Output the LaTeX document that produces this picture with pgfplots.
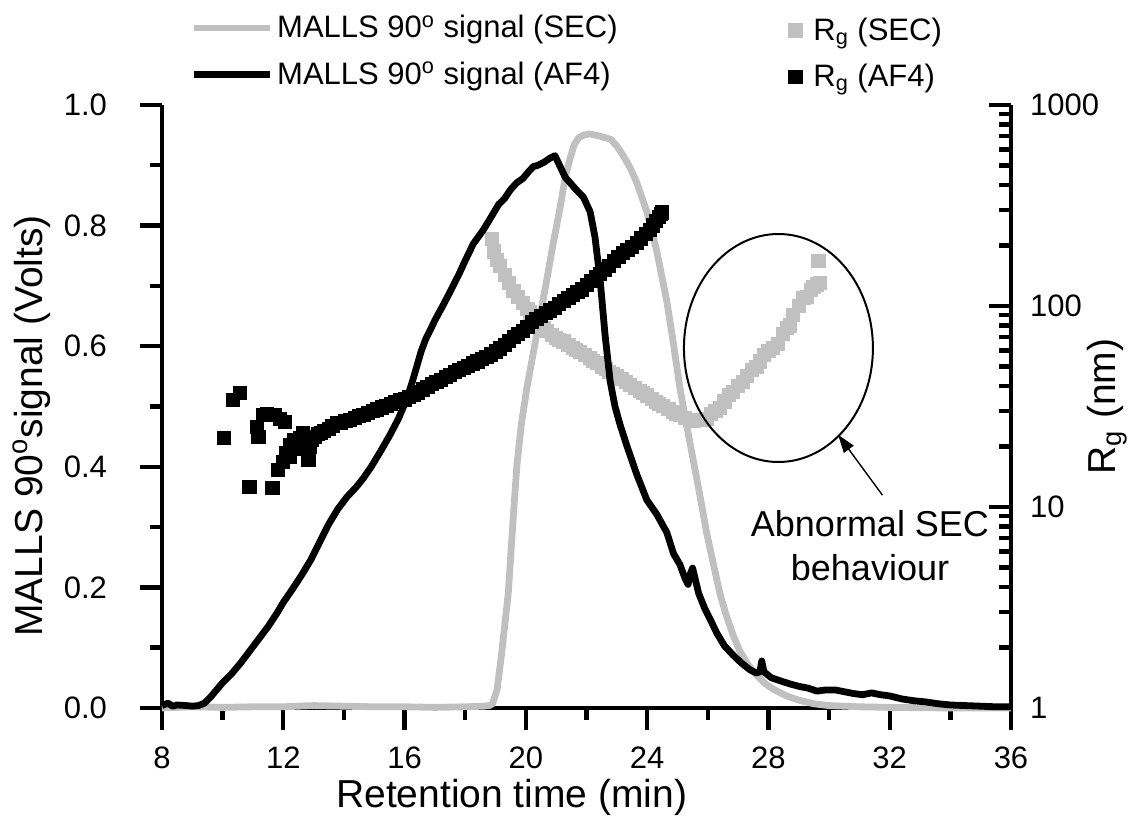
\documentclass[border=0pt]{standalone}
\usepackage{fontspec}
\setmainfont{Liberation Sans}
\usepackage{pgfplots}
\usepackage{pgfplotstable}
\pgfplotsset{compat=1.18}
\usetikzlibrary{arrows.meta}
\definecolor{ltgray}{RGB}{192,192,192}

\pgfplotstableread{
x y
8.0 0.004
8.2 0.008
8.35 0.003
8.5 0.005
8.8 0.004
9.0 0.003
9.2 0.004
9.4 0.008
9.6 0.018
9.8 0.03
10.0 0.042
10.3 0.057
10.6 0.075
10.9 0.095
11.2 0.115
11.5 0.135
11.8 0.158
12.0 0.175
12.3 0.197
12.6 0.22
12.9 0.245
13.2 0.275
13.5 0.305
13.8 0.33
14.1 0.35
14.4 0.366
14.64 0.381
14.9 0.4
15.2 0.425
15.52 0.453
15.8 0.48
16.07 0.512
16.25 0.54
16.4 0.566
16.55 0.592
16.7 0.612
16.85 0.627
17.0 0.643
17.25 0.666
17.5 0.69
17.8 0.72
18.0 0.742
18.27 0.77
18.6 0.793
18.9 0.818
19.1 0.835
19.3 0.845
19.5 0.86
19.7 0.871
19.9 0.878
20.1 0.89
20.25 0.898
20.4 0.9
20.6 0.905
20.8 0.912
20.96 0.916
21.13 0.898
21.3 0.88
21.46 0.871
21.65 0.86
21.9 0.847
22.12 0.823
22.28 0.781
22.45 0.71
22.61 0.62
22.78 0.542
22.94 0.5
23.1 0.471
23.33 0.435
23.66 0.387
23.99 0.345
24.32 0.321
24.65 0.291
24.87 0.256
25.08 0.238
25.25 0.215
25.35 0.205
25.42 0.222
25.5 0.232
25.58 0.215
25.7 0.19
25.9 0.165
26.1 0.145
26.3 0.124
26.55 0.103
26.83 0.088
27.1 0.075
27.4 0.063
27.6 0.058
27.72 0.06
27.78 0.078
27.85 0.06
28.1 0.05
28.4 0.045
28.7 0.04
29.0 0.036
29.3 0.033
29.6 0.028
29.9 0.03
30.2 0.03
30.5 0.027
30.8 0.024
31.1 0.022
31.4 0.025
31.7 0.022
32.0 0.02
32.4 0.015
32.8 0.012
33.2 0.01
33.6 0.007
34.0 0.005
34.5 0.004
35.0 0.003
35.5 0.002
36.0 0.002
}\afline

\pgfplotstableread{
x y
8.0 0.0
9.0 0.002
10.0 0.001
11.0 0.002
12.0 0.002
13.0 0.004
14.0 0.003
15.0 0.002
16.0 0.002
17.0 0.001
18.0 0.002
18.6 0.003
18.8 0.004
18.9 0.007
19.05 0.03
19.2 0.09
19.42 0.19
19.59 0.32
19.7 0.4
19.85 0.47
20.03 0.53
20.36 0.62
20.69 0.71
20.9 0.77
21.13 0.83
21.3 0.88
21.46 0.912
21.6 0.935
21.75 0.946
21.9 0.95
22.1 0.952
22.4 0.949
22.8 0.943
23.0 0.932
23.21 0.916
23.45 0.895
23.66 0.871
23.99 0.823
24.32 0.757
24.65 0.674
24.85 0.61
25.08 0.531
25.3 0.47
25.52 0.411
25.75 0.35
25.96 0.291
26.2 0.235
26.4 0.19
26.6 0.155
26.84 0.12
27.05 0.095
27.3 0.074
27.6 0.055
27.9 0.04
28.2 0.03
28.6 0.02
29.0 0.013
29.5 0.007
30.0 0.004
31.0 0.002
32.0 0.001
34.0 0.0
36.0 0.0
}\secline

\pgfplotstableread{
x y
18.87 216
18.95 187
19.05 170
19.15 159
19.3 143
19.45 130
19.59 119
19.75 111
19.9 104
20.05 97
20.14 93
20.3 88
20.45 83
20.6 78
20.69 75.5
20.85 72
21.0 69.5
21.1 68
21.24 66.7
21.4 64
21.55 62
21.65 60.5
21.79 59
21.95 57
22.1 55
22.2 53.5
22.34 52
22.5 50
22.65 48.5
22.75 47
22.88 46
23.0 44.8
23.15 43.3
23.3 41.8
23.43 40.6
23.6 39
23.75 37.8
23.85 36.8
23.99 35.9
24.15 34.6
24.3 33.4
24.4 32.6
24.53 31.7
24.7 30.7
24.85 29.8
24.95 29.2
25.08 28.6
25.25 27.8
25.41 27.2
25.55 26.9
25.7 27
25.85 27.2
25.96 27.5
26.1 29
26.25 30
26.4 31
26.55 33.5
26.7 36
26.84 37.5
27.0 40
27.15 42
27.28 45
27.45 48
27.6 50
27.72 53
27.85 57
28.0 60
28.16 62
28.3 65
28.49 72.5
28.6 78
28.71 80
28.82 90
29.0 100
29.15 110
29.26 111
29.4 120
29.48 124
29.6 128
29.7 130
29.65 168
}\secrg

\pgfplotstableread{
x y
10.04 22
10.35 34
10.57 37
10.88 12.6
11.12 25
11.18 22.4
11.34 28.7
11.45 29
11.64 12.4
11.73 28.7
11.82 15.3
11.9 27.5
12.0 16.8
12.05 26.5
12.1 18.5
12.22 20.3
12.22 17.8
12.35 21.5
12.45 19.5
12.55 22
12.66 23.3
12.7 20.5
12.83 17.1
12.88 19.9
12.95 21.5
13.05 22.4
13.15 23
13.25 23.3
13.35 24
13.5 24.5
13.62 25.3
13.76 26.1
13.9 26.3
14.05 26.8
14.2 27.1
14.35 27.8
14.5 28.3
14.64 28.7
14.8 29.4
14.95 30
15.1 30.6
15.25 31.3
15.4 31.9
15.55 32.6
15.7 33.3
15.85 33.9
16.0 34.3
16.15 35.2
16.3 36
16.45 37.2
16.6 38.5
16.75 39.6
16.9 40.8
17.05 42
17.2 43
17.35 44.3
17.5 45.5
17.65 46.8
17.8 48
17.95 49.2
18.1 50.5
18.25 51.8
18.4 53
18.55 54.5
18.7 55.8
18.85 57.5
19.0 59.5
19.15 61.5
19.3 64
19.45 67
19.6 70
19.75 72.5
19.9 75.5
20.05 79
20.2 83
20.35 86
20.5 89
20.65 92
20.8 95
20.95 98
21.1 102
21.25 106
21.4 110
21.55 114
21.7 117
21.85 121
22.0 127
22.15 133
22.3 139
22.45 145
22.6 152
22.75 159
22.9 167
23.05 175
23.2 183
23.35 190
23.5 197
23.65 206
23.8 217
23.95 228
24.1 240
24.2 252
24.3 265
24.38 278
24.45 288
24.48 292
}\afrg

\begin{document}
\begin{tikzpicture}
\useasboundingbox (-81pt,-61pt) rectangle (487.5pt,354pt);
\pgfplotsset{
  base/.style={
    at={(0pt,0pt)}, anchor=south west, scale only axis,
    width=424.5pt, height=301.5pt,
    xmin=8, xmax=36,
    axis line style={line width=2.2pt},
    tick style={line width=2.2pt, black},
    major tick length=11pt, minor tick length=6pt,
    tick label style={font=\fontsize{15.5}{18}\selectfont},
    label style={font=\fontsize{19.5}{23}\selectfont},
  },
  sq/.style={only marks, mark=square*, mark size=3.3pt,
    mark options={line width=0.4pt}},
}
% Axis A: Rg (SEC) squares, hidden
\begin{axis}[base, hide axis, ymode=log, ymin=1, ymax=1000, clip=false]
\addplot[sq, ltgray] table {\secrg};
\end{axis}

% Axis B: light scattering signals, left axis
\begin{axis}[base,
  ymin=0, ymax=1,
  axis x line*=bottom, axis y line*=left,
  tick align=outside,
  xtick={8,12,16,20,24,28,32,36},
  xticklabels={8,12,16,20,24,28,32,36},
  xticklabel style={yshift=-5pt},
  minor x tick num=1,
  ytick={0,0.2,0.4,0.6,0.8,1.0},
  yticklabels={0.0,0.2,0.4,0.6,0.8,1.0},
  yticklabel style={xshift=-13pt},
  minor y tick num=1,
  xlabel={Retention time (min)},
  ylabel={MALLS 90\textsuperscript{o}signal (Volts)},
  xlabel style={at={(axis description cs:0.412,-0.1476)}, anchor=center},
  ylabel style={at={(axis description cs:-0.153,0.468)}, anchor=center},
  clip=false,
  legend style={at={(rel axis cs:0.033,1.156)}, anchor=north west,
    draw=none, fill=none, inner sep=0pt, row sep=6.5pt,
    font=\fontsize{15.5}{18}\selectfont},
  legend cell align=left,
  legend image code/.code={\draw[#1] (0pt,0pt) -- (38pt,0pt);},
]
\addplot[ltgray, line width=3.4pt, line join=round] table {\secline};
\addlegendentry{MALLS 90\textsuperscript{o} signal (SEC)}
\addplot[black, line width=3.4pt, line join=round] table {\afline};
\addlegendentry{MALLS 90\textsuperscript{o} signal (AF4)}
\draw[line width=1pt] (axis cs:28.33,0.597) ellipse [x radius=47.25pt, y radius=57pt];
\draw[line width=0.7pt, -{Triangle[length=9pt,width=6pt]}] (axis cs:31.76,0.353) -- (axis cs:30.3,0.453);
\node[align=center, font=\fontsize{18}{22}\selectfont] at (axis cs:31.35,0.27) {Abnormal SEC\\behaviour};
\end{axis}

% Axis C: Rg (AF4) squares, right log axis
\begin{axis}[base,
  ymode=log, ymin=1, ymax=1000,
  axis y line*=right, axis x line=none,
  tick align=inside,
  ytick={1,10,100,1000},
  yticklabels={1,10,100,1000},
  yticklabel style={xshift=6pt},
  ylabel={R\textsubscript{g} (nm)},
  ylabel style={at={(axis description cs:1.113,0.5)}, anchor=center},
  clip=false,
  legend style={at={(rel axis cs:0.7303,1.152)}, anchor=north west,
    draw=none, fill=none, inner sep=0pt, row sep=6.5pt,
    font=\fontsize{15.5}{18}\selectfont},
  legend cell align=left,
  legend image code/.code={\draw[#1, only marks] plot coordinates {(6.5pt,0pt)}; \path[draw=none] (0pt,0pt) (13.5pt,0pt);},
]
\addlegendimage{sq, ltgray}
\addlegendentry{R\textsubscript{g} (SEC)}
\addplot[sq, black] table {\afrg};
\addlegendentry{R\textsubscript{g} (AF4)}
\end{axis}
\end{tikzpicture}
\end{document}
